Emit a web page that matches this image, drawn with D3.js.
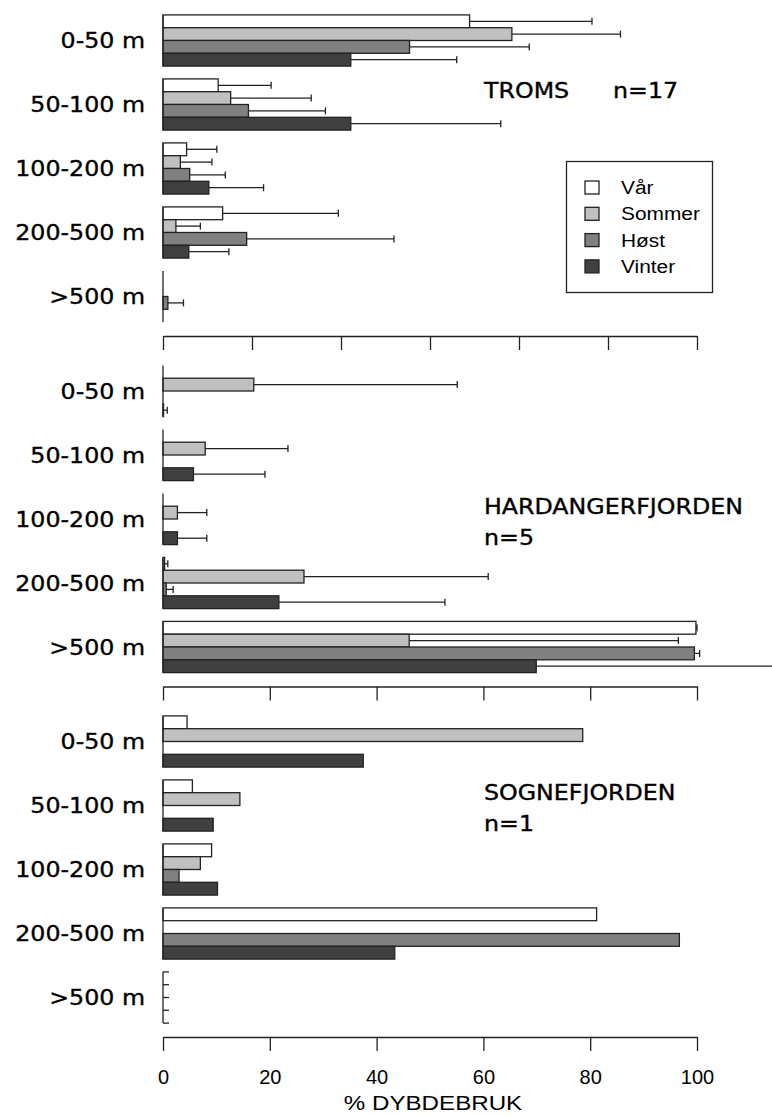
<!DOCTYPE html>
<meta charset="utf-8">

<!-- Load d3.js -->
<script src="https://d3js.org/d3.v7.min.js"></script>

<style>
  body { margin: 0; background: #fff; }
</style>

<!-- Create a div where the graph will take place -->
<div id="my_dataviz"></div>

<script>

// categories
var depths = ["0-50 m", "50-100 m", "100-200 m", "200-500 m", ">500 m"];
var seasons = ["Vår", "Sommer", "Høst", "Vinter"];
var areas = ["TROMS", "HARDANGERFJORDEN", "SOGNEFJORDEN"];
var areaN = ["n=17", "n=5", "n=1"];

// tick labels (Troms panel runs to 120)
var tromsTicks = [0, 20, 40, 60, 80, 100, 120];
var fjordTicks = [0, 20, 40, 60, 80, 100];

// % depth use, one row per depth, columns Vår, Sommer, Høst, Vinter
var tromsMean = [
  [68.9, 78.4, 55.4, 42.2],
  [12.4, 15.2, 19.2, 42.2],
  [5.3, 3.9, 6.0, 10.3],
  [13.4, 2.9, 18.8, 5.8],
  [0, 0, 1.1, 0]
];
var tromsSD = [
  [27.5, 24.4, 26.9, 23.8],
  [11.9, 18.1, 17.3, 33.7],
  [6.8, 7.1, 8.0, 12.3],
  [26.0, 5.5, 33.1, 9.0],
  [0, 0, 3.5, 0]
];

var hardMean = [
  [0, 17.0, 0, 0.1],
  [0, 7.9, 0, 5.7],
  [0, 2.7, 0, 2.7],
  [0.3, 26.4, 0.6, 21.7],
  [99.8, 46.1, 99.5, 69.9]
];
var hardSD = [
  [0, 38.1, 0, 0.7],
  [0, 15.5, 0, 13.4],
  [0, 5.5, 0, 5.5],
  [0.6, 34.5, 1.3, 31.1],
  [0.2, 50.4, 1.0, 50.0]
];

var sogneMean = [
  [4.5, 78.6, 0, 37.5],
  [5.5, 14.4, 0, 9.4],
  [9.1, 7.0, 3.0, 10.2],
  [81.2, 0, 96.7, 43.4],
  [0, 0, 0, 0]
];

// styles
var seasonColors = ["#ffffff", "#c0c0c0", "#808080", "#404040"];
var ink = "#222";

// set the dimensions of the graph
var width = 772,
    height = 1115,
    left = 163,
    right = 697,
    panelStep = 350.5,
    stretch = 1.13;

var svg = d3.select("#my_dataviz")
  .append("svg")
    .attr("width", width)
    .attr("height", height)
    .style("font-family", "'DejaVu Sans'");

var panels = [
  { name: areas[0], n: areaN[0], mean: tromsMean, sd: tromsSD, ticks: tromsTicks },
  { name: areas[1], n: areaN[1], mean: hardMean, sd: hardSD, ticks: fjordTicks },
  { name: areas[2], n: areaN[2], mean: sogneMean, sd: null, ticks: fjordTicks }
];

// title positions for each panel
var titlePos = [
  { x: 484, y: 98, nx: 613, ny: 98 },
  { x: 484, y: 514, nx: 484, ny: 545 },
  { x: 484, y: 800, nx: 484, ny: 831 }
];

// slightly heavier text, like the scanned original
function heavy(sel) {
  sel.attr("fill", "#000")
    .attr("stroke", "#000")
    .attr("stroke-width", 0.35);
}

panels.forEach(function(p, pi) {

  var top = 8.5 + pi * panelStep;

  var x = d3.scaleLinear()
    .domain([0, d3.max(p.ticks)])
    .range([left, right]);

  var y = d3.scaleBand()
    .domain(depths)
    .range([top, top + 320])
    .paddingInner(0.2)
    .paddingOuter(0.1);

  var ys = d3.scaleBand()
    .domain(seasons)
    .range([0, y.bandwidth()]);

  var g = svg.append("g");

  // depth groups
  var groups = g.selectAll(".grp")
    .data(depths)
    .enter()
    .append("g")
      .attr("class", "grp")
      .attr("transform", function(d) { return "translate(0," + y(d) + ")"; });

  // bars
  groups.selectAll("rect")
    .data(function(d, i) {
      return seasons.map(function(s, j) {
        return { season: s, j: j, v: p.mean[i][j] };
      });
    })
    .enter()
    .filter(function(d) { return d.v > 0; })
    .append("rect")
      .attr("x", x(0))
      .attr("y", function(d) { return ys(d.season); })
      .attr("width", function(d) { return x(d.v) - x(0); })
      .attr("height", ys.bandwidth())
      .attr("fill", function(d) { return seasonColors[d.j]; })
      .attr("stroke", ink)
      .attr("stroke-width", 1.3);

  // error bars
  var err = groups.selectAll(".err")
    .data(function(d, i) {
      return seasons.map(function(s, j) {
        return { season: s, v: p.mean[i][j], sd: p.sd ? p.sd[i][j] : 0 };
      }).filter(function(e) { return e.sd > 0; });
    })
    .enter()
    .append("g")
      .attr("class", "err")
      .attr("stroke", ink)
      .attr("stroke-width", 1.3);

  err.append("line")
    .attr("x1", function(d) { return x(d.v); })
    .attr("x2", function(d) { return x(d.v + d.sd); })
    .attr("y1", function(d) { return ys(d.season) + ys.bandwidth() / 2; })
    .attr("y2", function(d) { return ys(d.season) + ys.bandwidth() / 2; });

  err.append("line")
    .attr("x1", function(d) { return x(d.v + d.sd); })
    .attr("x2", function(d) { return x(d.v + d.sd); })
    .attr("y1", function(d) { return ys(d.season) + ys.bandwidth() / 2 - 3.5; })
    .attr("y2", function(d) { return ys(d.season) + ys.bandwidth() / 2 + 3.5; });

  // zero line of each group
  groups.append("line")
    .attr("x1", x(0)).attr("x2", x(0))
    .attr("y1", 0).attr("y2", y.bandwidth())
    .attr("stroke", ink)
    .attr("stroke-width", 1.3);

  // empty groups get small marks at the bar edges
  groups.filter(function(d, i) { return d3.max(p.mean[i]) === 0 && !p.sd; })
    .selectAll(".edge")
    .data(d3.range(seasons.length + 1))
    .enter()
    .append("line")
      .attr("x1", x(0)).attr("x2", x(0) + 6)
      .attr("y1", function(k) { return k * ys.step(); })
      .attr("y2", function(k) { return k * ys.step(); })
      .attr("stroke", ink)
      .attr("stroke-width", 1.3);

  // depth labels
  groups.append("text")
    .attr("transform", "translate(145," + (y.bandwidth() / 2 + 7.5) + ") scale(" + stretch + ",1)")
    .attr("text-anchor", "end")
    .style("font-size", "21px")
    .text(function(d) { return d; })
    .call(heavy);

  // x axis
  var last = pi === panels.length - 1;
  var axis = g.append("g")
    .attr("transform", "translate(0," + (top + 327.5) + ")")
    .call(d3.axisBottom(x)
      .tickValues(p.ticks)
      .tickSize(14)
      .tickSizeOuter(0)
      .tickPadding(19)
      .tickFormat(last ? d3.format("d") : function() { return ""; }));

  axis.select(".domain").attr("stroke", ink).attr("stroke-width", 1.3);
  axis.selectAll(".tick line").attr("stroke", ink).attr("stroke-width", 1.3);
  axis.selectAll(".tick text")
    .attr("fill", "#000")
    .style("font-family", "'Liberation Sans', Arial")
    .style("font-size", "20px");

  // area title
  var t = titlePos[pi];
  g.append("text")
    .attr("transform", "translate(" + t.x + "," + t.y + ") scale(" + stretch + ",1)")
    .style("font-size", "21px")
    .text(p.name)
    .call(heavy);
  g.append("text")
    .attr("transform", "translate(" + t.nx + "," + t.ny + ") scale(" + stretch + ",1)")
    .style("font-size", "21px")
    .text(p.n)
    .call(heavy);
});

// x axis title
svg.append("text")
  .attr("transform", "translate(" + ((left + right) / 2 + 3) + ",1110) scale(1.15,1)")
  .attr("text-anchor", "middle")
  .style("font-family", "'Liberation Sans', Arial")
  .style("font-size", "21px")
  .attr("fill", "#000")
  .text("% DYBDEBRUK");

// legend
var legend = svg.append("g");

legend.append("rect")
  .attr("x", 566.5).attr("y", 161.5)
  .attr("width", 146).attr("height", 131)
  .attr("fill", "#fff")
  .attr("stroke", ink)
  .attr("stroke-width", 1.3);

var items = legend.selectAll(".item")
  .data(seasons)
  .enter()
  .append("g")
    .attr("class", "item")
    .attr("transform", function(d, i) { return "translate(0," + (194 + i * 26.3) + ")"; });

items.append("rect")
  .attr("x", 585).attr("y", -13)
  .attr("width", 14).attr("height", 13)
  .attr("fill", function(d, i) { return seasonColors[i]; })
  .attr("stroke", ink)
  .attr("stroke-width", 1.3);

items.append("text")
  .attr("transform", "translate(621,0) scale(1.16,1)")
  .style("font-family", "'Liberation Sans', Arial")
  .style("font-size", "18px")
  .attr("fill", "#000")
  .text(function(d) { return d; });

</script>
